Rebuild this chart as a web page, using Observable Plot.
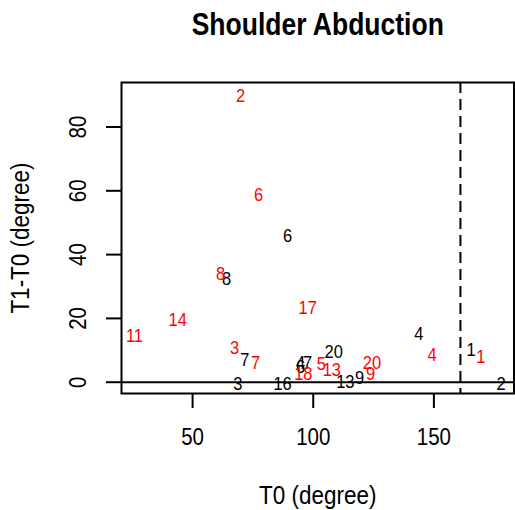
<!DOCTYPE html>
<html>
<head>
<meta charset="utf-8">
<script src="https://cdn.jsdelivr.net/npm/d3@7"></script>
<script src="https://cdn.jsdelivr.net/npm/@observablehq/plot@0.6"></script>
<style>
  html, body { margin: 0; padding: 0; background: #fff; }
  svg { display: block; }
</style>
</head>
<body>
<div id="chart"></div>
<script>
// ---- data ----
const titleText = "Shoulder Abduction";
const xTitle = "T0 (degree)";
const yTitle = "T1-T0 (degree)";

const xTicks = [50, 100, 150];
const yTicks = [0, 20, 40, 60, 80];
const cutoff = 161;

// black labels
const blackLabels = ["1", "2", "3", "4", "4", "7", "6", "6", "7", "8", "9", "13", "16", "20"];
const blackT0     = [165.4, 177.8, 68.7, 143.8, 94.8, 97.7, 89.4, 94.8, 71.6, 64.1, 119.2, 113.3, 87.3, 108.5];
const blackDiff   = [10.2, -0.5, -0.4, 15.0, 6.0, 6.0, 46.0, 4.7, 7.1, 32.5, 1.2, 0.2, -0.4, 9.6];

// red labels
const redLabels = ["1", "2", "3", "4", "5", "6", "7", "8", "9", "11", "13", "14", "17", "18", "20"];
const redT0     = [169.5, 69.9, 67.4, 149.2, 103.4, 77.4, 76.1, 61.6, 123.8, 25.9, 107.7, 43.8, 97.7, 95.9, 124.3];
const redDiff   = [7.8, 89.6, 10.9, 8.4, 5.8, 58.8, 5.9, 34.0, 2.6, 14.6, 3.8, 19.4, 23.4, 2.6, 5.9];

const black = blackLabels.map((l, i) => ({label: l, x: blackT0[i], y: blackDiff[i]}));
const red = redLabels.map((l, i) => ({label: l, x: redT0[i], y: redDiff[i]}));

const font = "'Liberation Sans', Arial, Helvetica, sans-serif";

const chart = Plot.plot({
  width: 515,
  height: 510,
  marginTop: 82,
  marginLeft: 121,
  marginRight: 1.5,
  marginBottom: 117,
  style: {fontFamily: font, background: "#fff", color: "#000", overflow: "visible"},
  x: {domain: [20.54, 183.2]},
  y: {domain: [-3.54, 93.95]},
  marks: [
    Plot.ruleY([0], {stroke: "black", strokeWidth: 2}),
    Plot.ruleX([cutoff], {stroke: "black", strokeWidth: 2, strokeDasharray: "11,6"}),
    Plot.text(black, {x: "x", y: "y", text: "label", fill: "black", fontSize: 16.5}),
    Plot.text(red, {x: "x", y: "y", text: "label", fill: "#ff0000", fontSize: 16.5}),
    Plot.axisX(xTicks, {tickSize: 15, label: null, stroke: "black", strokeWidth: 2, tickFormat: () => ""}),
    Plot.axisY(yTicks, {tickSize: 15, label: null, stroke: "black", strokeWidth: 2, tickFormat: () => ""}),
    Plot.text(xTicks, {x: d => d, text: d => String(d), frameAnchor: "bottom", dy: 44, textAnchor: "middle", lineAnchor: "middle", fontSize: 20.5, fill: "black"}),
    Plot.text(yTicks, {y: d => d, text: d => String(d), frameAnchor: "left", dx: -43, rotate: -90, textAnchor: "middle", lineAnchor: "middle", fontSize: 20.5, fill: "black"}),
    Plot.text([xTitle], {frameAnchor: "bottom", dy: 102, textAnchor: "middle", lineAnchor: "middle", fontSize: 22.5, fill: "black"}),
    Plot.text([yTitle], {frameAnchor: "left", dx: -101, rotate: -90, textAnchor: "middle", lineAnchor: "middle", fontSize: 22.5, fill: "black"}),
    Plot.text([titleText], {frameAnchor: "top", dy: -57, textAnchor: "middle", lineAnchor: "middle", fontSize: 26.5, fontWeight: "bold", fill: "black"}),
    Plot.frame({stroke: "black", strokeWidth: 2})
  ]
});

// the reference glyphs are slightly taller than wide: stretch every text vertically about its anchor
const k = 1.15;
chart.querySelectorAll("text").forEach(t => {
  const tr = t.getAttribute("transform");
  if (tr && tr.includes("translate")) t.setAttribute("transform", `${tr} scale(1,${k})`);
});

document.getElementById("chart").appendChild(chart);
</script>
</body>
</html>
